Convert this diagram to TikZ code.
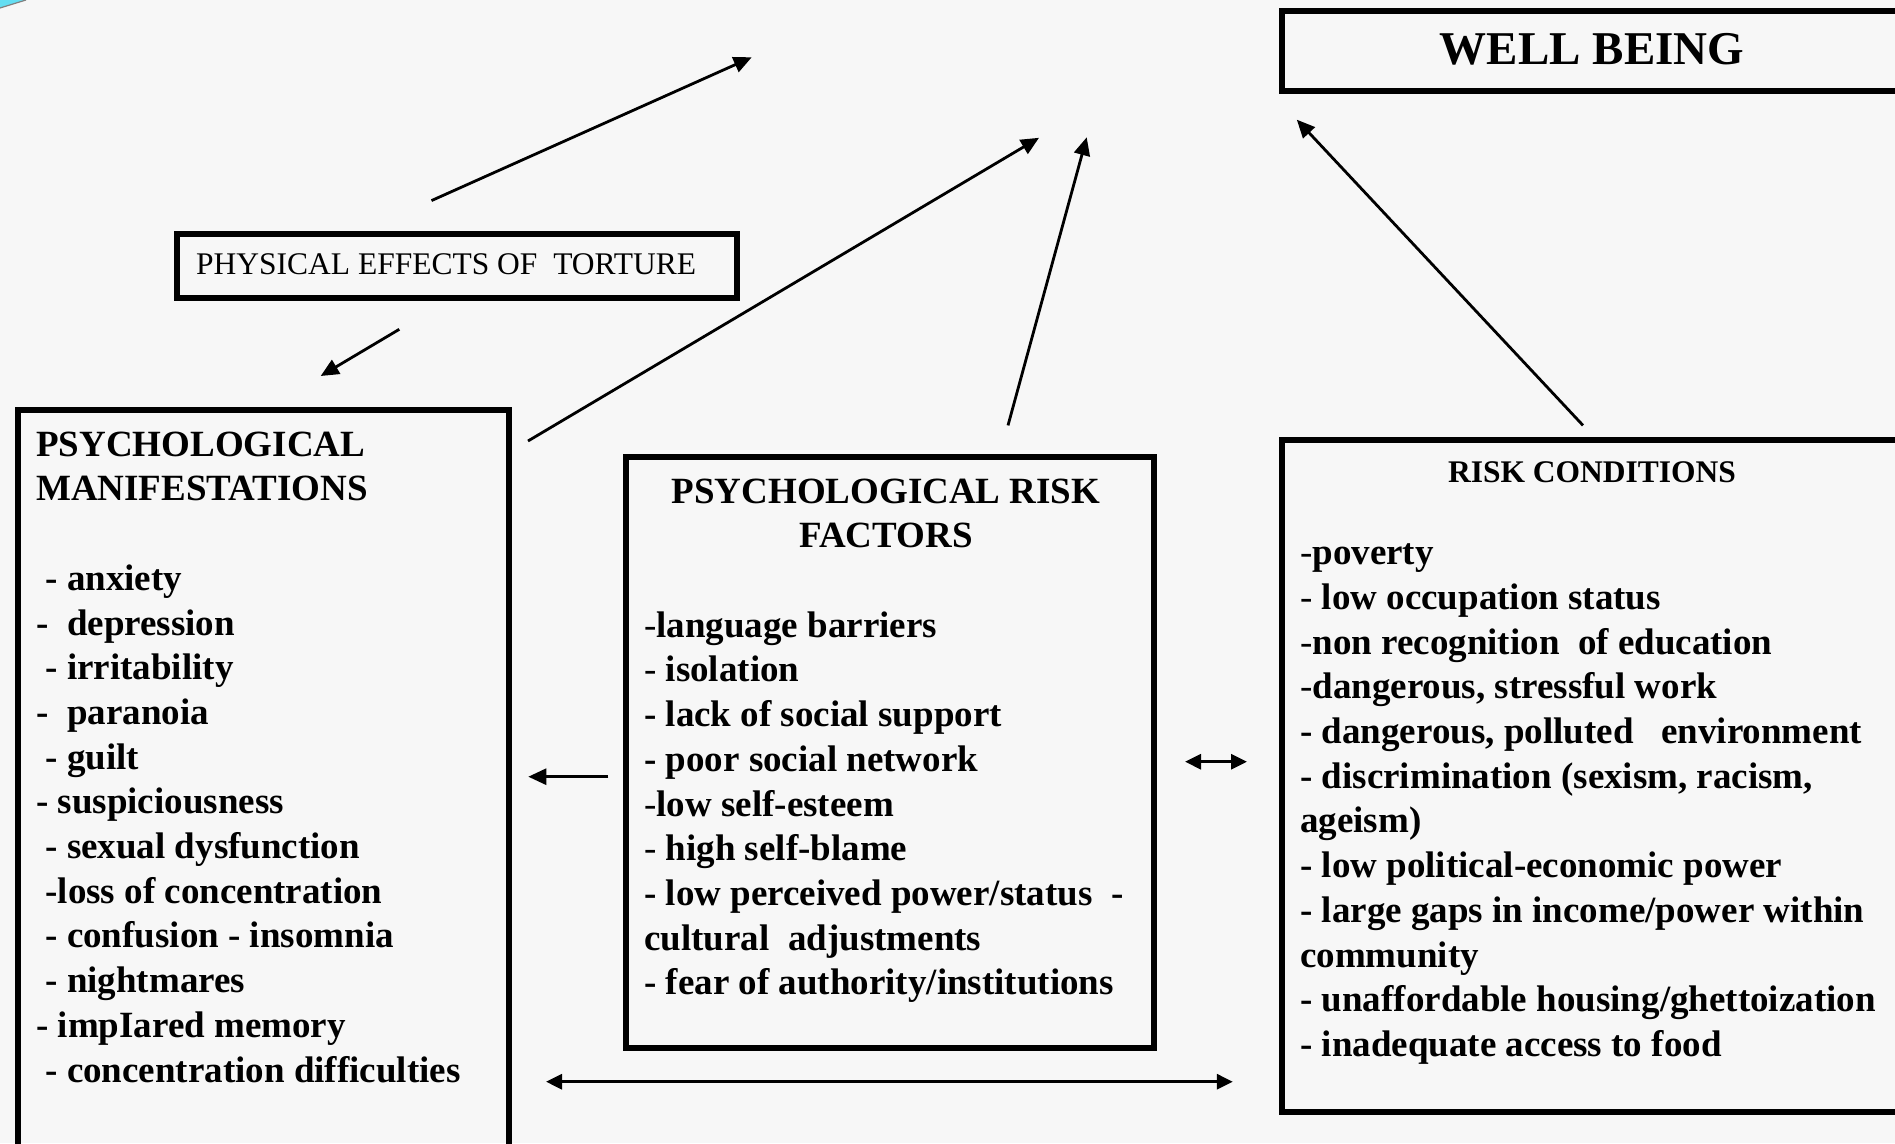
\documentclass[tikz,border=0pt]{standalone}
\usepackage{fontspec}
\setmainfont{Liberation Serif}
\usetikzlibrary{arrows.meta}
\definecolor{bgcol}{RGB}{247,247,247}
\definecolor{cornercyan}{RGB}{100,222,242}
\newcommand\ind{\hspace*{.25em}}
\newcommand\fl{\rule{0pt}{30pt}}
\begin{document}
\begin{tikzpicture}[x=1pt,y=-1pt,
  box/.style={draw=black,line width=6pt,inner sep=0pt,anchor=north west},
  arr/.style={line width=2.8pt,-{Triangle[length=18pt,width=16pt]}},
  darr/.style={line width=3pt,{Triangle[length=16pt,width=15pt]}-{Triangle[length=16pt,width=15pt]}},
  body/.style={inner sep=0pt,anchor=north west,align=left,font=\fontsize{37}{44.7}\selectfont\bfseries},
  ttl/.style={inner sep=0pt,anchor=north,align=center,font=\fontsize{37}{44.7}\selectfont\bfseries}
]
\useasboundingbox (0,0) rectangle (1895,1143);
\fill[bgcol] (0,0) rectangle (1895,1143);
% corner decoration
\fill[cornercyan] (0,0) -- (26,0) -- (0,8) -- cycle;
\draw[gray,line width=1.2pt] (0,8) -- (26,0);

% boxes
\node[box,minimum width=627pt,minimum height=79.5pt] (wb) at (1279,8) {};
\node[box,minimum width=560pt,minimum height=64pt] (phys) at (174,230.5) {};
\node[box,minimum width=491pt,minimum height=760pt] (pm) at (14.5,406.5) {};
\node[box,minimum width=528pt,minimum height=591pt] (prf) at (622.5,454) {};
\node[box,minimum width=627pt,minimum height=672pt] (rc) at (1279,437) {};

% texts
\node[inner sep=0pt,anchor=base,font=\fontsize{47}{52}\selectfont\bfseries] (wbt) at (1592,64) {WELL BEING};
\node[inner sep=0pt,anchor=base west,font=\fontsize{31.5}{36}\selectfont] (physt) at (196,274) {PHYSICAL EFFECTS OF~~TORTURE};

\node[body] (pmt) at (36,426) {\fl PSYCHOLOGICAL\\
MANIFESTATIONS\\
\mbox{}\\
\ind- anxiety\\
-~~depression\\
\ind- irritability\\
-~~paranoia\\
\ind- guilt\\
- suspiciousness\\
\ind- sexual dysfunction\\
\ind-loss of concentration\\
\ind- confusion - insomnia\\
\ind- nightmares\\
- impIared memory\\
\ind- concentration difficulties};

\node[ttl] (prft) at (886,473) {\fl PSYCHOLOGICAL RISK\\FACTORS};
\node[body] (prfb) at (644,607) {\fl\textmd{-}language barriers\\
\textmd{-} isolation\\
- lack of social support\\
- poor social network\\
\textmd{-}low self-esteem\\
\textmd{-} high self-blame\\
- low perceived power/status~~-\\
cultural~~adjustments\\
- fear of authority/institutions};

\node[inner sep=0pt,anchor=base,font=\fontsize{31.5}{36}\selectfont\bfseries] (rct) at (1592,482) {RISK CONDITIONS};
\node[body] (rcb) at (1300,534.5) {\fl\textmd{-}poverty\\
\textmd{-} low occupation status\\
\textmd{-}non recognition~~of education\\
\textmd{-}dangerous, stressful work\\
- dangerous, polluted~~~environment\\
- discrimination (sexism, racism,\\
ageism)\\
- low political-economic power\\
- large gaps in income/power within\\
community\\
- unaffordable housing/ghettoization\\
- inadequate access to food};

% connector end points
\coordinate (a1s) at (431.5,200.6);
\coordinate (a1e) at (751.7,57.3);
\coordinate (a2s) at (399.3,329.3);
\coordinate (a2e) at (320.7,376);
\coordinate (a3s) at (528,441);
\coordinate (a3e) at (1039,137.8);
\coordinate (a4s) at (1008,425.4);
\coordinate (a4e) at (1086.7,137.3);
\coordinate (a5s) at (1583,425.4);
\coordinate (a5e) at (1296.8,119.7);
\coordinate (a6s) at (608.3,776.7);
\coordinate (a6e) at (528.3,776.7);
\coordinate (a7s) at (1185,761.7);
\coordinate (a7e) at (1247,761.7);
\coordinate (a8s) at (546,1081.7);
\coordinate (a8e) at (1232.8,1081.7);

\draw[arr] (a1s) -- (a1e);
\draw[arr] (a2s) -- (a2e);
\draw[arr] (a3s) -- (a3e);
\draw[arr] (a4s) -- (a4e);
\draw[arr] (a5s) -- (a5e);
\draw[arr] (a6s) -- (a6e);
\draw[darr] (a7s) -- (a7e);
\draw[darr] (a8s) -- (a8e);
\end{tikzpicture}
\end{document}
